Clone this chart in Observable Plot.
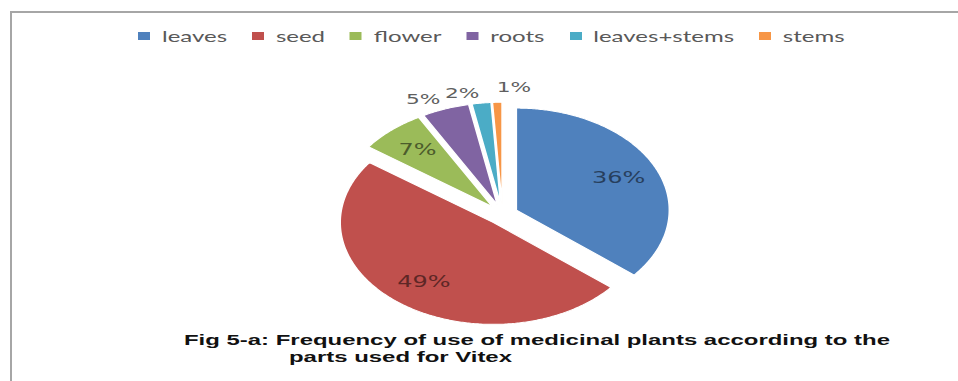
<!DOCTYPE html>
<html>
<head>
<meta charset="utf-8">
<script src="https://cdn.jsdelivr.net/npm/d3@7"></script>
<script src="https://cdn.jsdelivr.net/npm/@observablehq/plot@0.6"></script>
<style>
  html, body { margin: 0; padding: 0; background: #fff; }
  #chart { position: relative; width: 958px; height: 381px; overflow: hidden; background: #fff; }
  #frame { position: absolute; left: 10px; top: 11px; width: 1000px; height: 420px; border: 2px solid #a6a6a6; box-sizing: border-box; }
  /* the chart area is laid out narrow, then widened horizontally */
  #stage { position: absolute; left: 0; top: 0; width: 638.67px; height: 381px; transform: scaleX(1.5); transform-origin: 0 0; }
  #pie { position: absolute; left: 0; top: 0; }
  #legend { position: absolute; left: 92px; top: 26px; }
  #legend .lg-swatches { font-family: Lato, sans-serif; font-size: 16px; color: #595959; margin: 0; min-height: 0; line-height: 20px; }
  #legend .lg-swatch { margin-right: 16.5px; }
  #legend .lg-swatch > svg { margin-right: 8px; }
  #caption { position: absolute; left: 0; top: 0; }
  #caption text { font-family: "Liberation Sans", Arial, sans-serif; font-weight: bold; font-size: 15px; fill: #111; }
</style>
</head>
<body>
<div id="chart">
  <div id="frame"></div>
  <div id="stage">
    <div id="pie"></div>
    <div id="legend"></div>
  </div>
  <svg id="caption" width="958" height="381">
    <text x="184" y="345" textLength="706" lengthAdjust="spacingAndGlyphs">Fig 5-a: Frequency of use of medicinal plants according to the</text>
    <text x="289" y="362" textLength="223" lengthAdjust="spacingAndGlyphs">parts used for Vitex</text>
  </svg>
</div>
<script>
// Parts of Vitex used in traditional medicine, share of reported uses (%)
const parts = ["leaves", "seed", "flower", "roots", "leaves+stems", "stems"];
const shares = [36, 49, 7, 5, 2, 1];
const colors = ["#4F81BD", "#C0504D", "#9BBB59", "#8064A2", "#4BACC6", "#F79646"];

const rows = parts.map((part, i) => ({part, share: shares[i]}));

// Slices start at 12 o'clock and run clockwise; every slice is pulled out a little
const arcs = d3.pie().sort(null).value(d => d.share)(rows);
const explode = 0.1;

const outline = arcs.flatMap(a => {
  const mid = (a.startAngle + a.endAngle) / 2;
  const ox = explode * Math.sin(mid), oy = explode * Math.cos(mid);
  const n = Math.max(2, Math.ceil((a.endAngle - a.startAngle) / 0.01));
  const pts = [{part: a.data.part, x: ox, y: oy}];
  for (let k = 0; k <= n; k++) {
    const t = a.startAngle + (a.endAngle - a.startAngle) * k / n;
    pts.push({part: a.data.part, x: ox + Math.sin(t), y: oy + Math.cos(t)});
  }
  return pts;
});

// Percentage labels: inside the larger slices, outside the thin ones
const labelWidth = 0.2; // approximate width of an outside label, in pie radii
const labels = arcs.map((a, i) => {
  const mid = (a.startAngle + a.endAngle) / 2;
  const inside = a.data.share >= 6;
  const r = explode + (inside ? 0.74 : 1.1);
  const x = r * Math.sin(mid), y = r * Math.cos(mid);
  return {
    text: `${a.data.share}%`,
    x, y, inside,
    anchor: inside ? "middle" : (x < 0 ? "end" : "start"),
    ink: inside ? d3.color(colors[i]).darker(2).formatHex() : "#5f5f5f"
  };
});
// outside labels: if one would run into its neighbour, flip it to the
// other side of its leader point and lift it a little
const extent = l => l.anchor === "end" ? [l.x - labelWidth, l.x] : [l.x, l.x + labelWidth];
let prev = null;
for (const l of labels.filter(l => !l.inside)) {
  if (prev && extent(l)[0] < extent(prev)[1]) {
    l.anchor = "start";
    l.y = Math.max(l.y, prev.y + 0.06);
  }
  prev = l;
}

const cx = 334.7, cy = 214, R = 102;

const pie = Plot.plot({
  width: 639,
  height: 381,
  margin: 0,
  x: {domain: [-1, 1], range: [cx - R, cx + R], axis: null},
  y: {domain: [-1, 1], range: [cy + R, cy - R], axis: null},
  color: {domain: parts, range: colors},
  style: {background: "transparent", overflow: "visible"},
  marks: [
    Plot.line(outline, {x: "x", y: "y", z: "part", fill: "part", stroke: "white", strokeWidth: 1, curve: "linear-closed"}),
    ...labels.map(l => Plot.text([l], {
      x: "x", y: "y", text: "text",
      textAnchor: l.anchor,
      fill: l.ink, fontSize: l.inside ? 16 : 14.5, fontFamily: "DejaVu Sans"
    }))
  ]
});
document.getElementById("pie").append(pie);

const legend = Plot.legend({
  color: {type: "ordinal", domain: parts, range: colors},
  swatchWidth: 8,
  swatchHeight: 8,
  className: "lg"
});
document.getElementById("legend").append(legend);
</script>
</body>
</html>
